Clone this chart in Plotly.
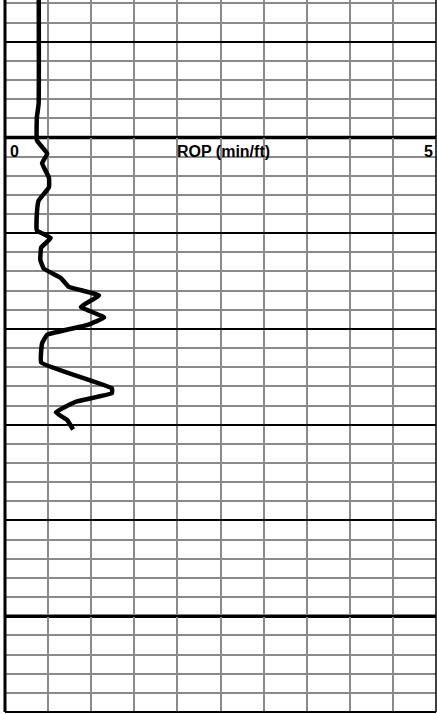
import plotly.graph_objects as go

# ROP log (depth in ft, ROP in min/ft)
depth = [980.0, 996.5, 997.9, 1000.3, 1001.7, 1002.7, 1004.2, 1005.2, 1006.6, 1007.9,
         1009.7, 1010.5, 1011.5, 1012.8, 1013.7, 1014.7, 1015.6, 1016.5, 1017.7, 1018.8,
         1019.6, 1020.6, 1021.5, 1023.5, 1026.2, 1026.7, 1027.6, 1028.7, 1029.5, 1030.5]
rop = [0.39, 0.39, 0.37, 0.37, 0.49, 0.43, 0.51, 0.51, 0.39, 0.37,
       0.37, 0.53, 0.42, 0.41, 0.45, 0.65, 0.74, 1.09, 0.88, 1.15,
       0.95, 0.49, 0.43, 0.42, 1.24, 1.24, 0.82, 0.59, 0.72, 0.79]

rop_min, rop_max = 0, 5
track_title = "ROP (min/ft)"
top_depth, bottom_depth = 985.65, 1060
heavy_depths = [1000, 1050]

fig = go.Figure()
fig.add_trace(go.Scatter(x=rop, y=depth, mode="lines",
                         line=dict(color="black", width=4.5, shape="spline", smoothing=0.3),
                         showlegend=False, hoverinfo="skip"))

grey = "#8a8a8a"
fig.update_xaxes(range=[rop_min, rop_max], dtick=0.5, showgrid=True, gridcolor=grey,
                 gridwidth=1.5, showticklabels=False, zeroline=False, ticks="")
fig.update_yaxes(range=[bottom_depth, top_depth], dtick=10, tick0=1000, showgrid=True,
                 gridcolor="black", gridwidth=1.5, showticklabels=False, zeroline=False,
                 ticks="", minor=dict(dtick=2, showgrid=True, gridcolor=grey, gridwidth=1.5))

# heavy depth lines
for d in heavy_depths:
    fig.add_shape(type="line", xref="paper", x0=0, x1=1, yref="y", y0=d, y1=d,
                  line=dict(color="black", width=3.5), layer="below")
# track borders
fig.add_shape(type="line", xref="paper", yref="paper", x0=0, x1=0, y0=0, y1=1,
              line=dict(color="black", width=3))
fig.add_shape(type="line", xref="paper", yref="paper", x0=1, x1=1, y0=0, y1=1,
              line=dict(color="black", width=1.5))
fig.add_shape(type="line", xref="paper", yref="paper", x0=0, x1=1, y0=0, y1=0,
              line=dict(color="black", width=2))

label_depth = 1001.45
fig.add_annotation(x=rop_min, y=label_depth, text="<b>%d</b>" % rop_min, showarrow=False,
                   xanchor="left", xshift=3, font=dict(family="Liberation Sans Narrow, Liberation Sans", size=16, color="black"))
fig.add_annotation(x=rop_max, y=label_depth, text="<b>%d</b>" % rop_max, showarrow=False,
                   xanchor="right", xshift=-1, font=dict(family="Liberation Sans Narrow, Liberation Sans", size=16, color="black"))
fig.add_annotation(x=(rop_min + rop_max) / 2, y=label_depth, text="<b>%s</b>" % track_title,
                   showarrow=False, xanchor="center", xshift=3,
                   font=dict(family="Liberation Sans Narrow, Liberation Sans", size=16, color="black"))

fig.update_layout(width=437, height=714, margin=dict(l=5, r=1, t=0, b=2),
                  plot_bgcolor="white", paper_bgcolor="white")
# page has a default 8px body margin; drop it so the figure fills the window
fig.write_html("out.html", config={"displayModeBar": False},
               post_script="document.body.style.margin='0';")
